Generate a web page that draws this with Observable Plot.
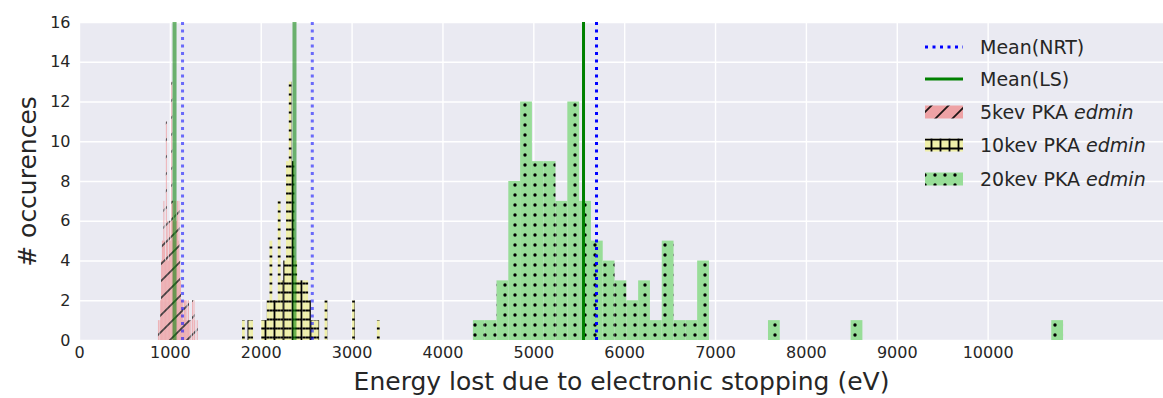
<!DOCTYPE html>
<html><head><meta charset="utf-8">
<script src="https://cdn.jsdelivr.net/npm/d3@7"></script>
<script src="https://cdn.jsdelivr.net/npm/@observablehq/plot@0.6"></script>
<style>
body{margin:0;background:#fff;font-family:"DejaVu Sans",sans-serif;}
#chart{position:relative;width:1163px;height:398px;overflow:hidden}
</style></head><body><div id="chart"></div>
<script>
// ---- data ----
const xTicks = [0,1000,2000,3000,4000,5000,6000,7000,8000,9000,10000];
const yTicks = [0,2,4,6,8,10,12,14,16];
const seriesNames = ["5kev PKA", "10kev PKA", "20kev PKA"];

// histogram bins (eV): first edge and bin width, 50 bins each
const binStart5 = 869,  binWidth5 = 8.72;
const binStart10 = 1794, binWidth10 = 30.3;
const binStart20 = 4335, binWidth20 = 129.9;

const counts5 = [1,0,1,2,4,5,5,7,5,4, 11,5,6,4,6,5,6,13,7,6, 7,5,7,6,7,5,7,4,3,2, 2,2,1,2,2,1,2,1,2,1, 0,1,0,2,0,2,1,0,0,1];
const counts10 = [1,0,1,1,0,0,0,1,1,2, 5,2,2,7,3,4,9,13,9,4, 3,3,3,3,2,1,1,1,0,0, 2,0,0,0,0,0,0,0,0,0, 2,0,0,0,0,0,0,0,0,1];
const counts20 = [1,1,3,8,12,9,9,7,12,7, 5,4,3,2,3,1,5,1,1,4, 0,0,0,0,0,1,0,0,0,0, 0,0,1,0,0,0,0,0,0,0, 0,0,0,0,0,0,0,0,0,1];

const meanNRT = [1134, 2562, 5690];
const meanLS  = [1046, 2366, 5547];

// ---- build tables ----
function bins(start, width, counts) {
  return counts.map((c, i) => ({x1: start + i * width, x2: start + (i + 1) * width, count: c}))
               .filter(d => d.count > 0);
}
const b5 = bins(binStart5, binWidth5, counts5);
const b10 = bins(binStart10, binWidth10, counts10);
const b20 = bins(binStart20, binWidth20, counts20);

const ink = "#262626";
const svg = Plot.plot({
  width: 1163, height: 398,
  marginLeft: 79, marginRight: 0, marginTop: 22, marginBottom: 58,
  x: {domain: [0, 11930]},
  y: {domain: [0, 16]},
  style: {fontFamily: "DejaVu Sans", fontSize: "16px", color: ink, background: "white", overflow: "visible"},
  marks: [
    Plot.frame({fill: "#EAEAF2", stroke: "none"}),
    Plot.gridX(xTicks, {stroke: "white", strokeOpacity: 1, strokeWidth: 1.4}),
    Plot.gridY(yTicks, {stroke: "white", strokeOpacity: 1, strokeWidth: 1.4}),
    Plot.axisX(xTicks, {tickSize: 0, tickPadding: 6, fontSize: 16, label: null, tickFormat: d => String(d)}),
    Plot.axisY(yTicks, {tickSize: 0, tickPadding: 9, fontSize: 16, label: null, tickFormat: d => String(d)}),
    Plot.rectY(b5, {x1: "x1", x2: "x2", y: "count", fill: "url(#h5)"}),
    Plot.rectY(b10, {x1: "x1", x2: "x2", y: "count", fill: "url(#h10)"}),
    Plot.rectY(b20, {x1: "x1", x2: "x2", y: "count", fill: "url(#h20)"}),
    Plot.ruleX(meanLS.slice(0, 2), {stroke: "#008000", strokeOpacity: 0.55, strokeWidth: 4}),
    Plot.ruleX(meanNRT.slice(0, 2), {stroke: "#0000ff", strokeOpacity: 0.55, strokeWidth: 3, strokeDasharray: "3,4.5"}),
    Plot.ruleX(meanLS.slice(2), {stroke: "#008000", strokeWidth: 3}),
    Plot.ruleX(meanNRT.slice(2), {stroke: "#0000ff", strokeWidth: 3, strokeDasharray: "3,4.5"}),
    Plot.text(["Energy lost due to electronic stopping (eV)"], {frameAnchor: "bottom", dy: 41, lineAnchor: "middle", textAnchor: "middle", fontSize: 25, fill: ink}),
    Plot.text(["# occurences"], {frameAnchor: "left", dx: -52, rotate: -90, textAnchor: "middle", lineAnchor: "middle", fontSize: 25, fill: ink})
  ]
});

// ---- hatch patterns ----
const s = d3.select(svg);
const defs = s.insert("defs", ":first-child");
function pat(id, w, h, bg) {
  const p = defs.append("pattern").attr("id", id).attr("patternUnits", "userSpaceOnUse")
    .attr("width", w).attr("height", h);
  p.append("rect").attr("width", w).attr("height", h).attr("fill", bg);
  return p;
}
pat("h5", 17, 17, "#eea2a5").append("path")
  .attr("d", "M0,17L17,0M-4,4L4,-4M13,21L21,13").attr("stroke", "#1f1616").attr("stroke-width", 1.8);
pat("h10", 9, 9, "#efefa9").append("path")
  .attr("d", "M0,4.5H9M4.5,0V9").attr("stroke", "#000").attr("stroke-width", 1.8);
pat("h20", 10, 10, "#98dd98").append("circle")
  .attr("cx", 5).attr("cy", 5).attr("r", 1.7).attr("fill", "#000");

// ---- legend ----
const lg = s.append("g").attr("font-family", "DejaVu Sans").attr("font-size", 19)
  .attr("fill", ink).attr("text-anchor", "start");
const rows = [47, 79, 112, 145, 179];
const x0 = 925, x1 = 963, tx = 980;
lg.append("line").attr("x1", x0).attr("x2", x1).attr("y1", rows[0]).attr("y2", rows[0])
  .attr("stroke", "#0000ff").attr("stroke-width", 3).attr("stroke-dasharray", "3,4.5");
lg.append("line").attr("x1", x0).attr("x2", x1).attr("y1", rows[1]).attr("y2", rows[1])
  .attr("stroke", "#008000").attr("stroke-width", 3);
["h5", "h10", "h20"].forEach((id, i) => {
  lg.append("rect").attr("x", x0).attr("y", rows[i + 2] - 6.5).attr("width", x1 - x0).attr("height", 13)
    .attr("fill", `url(#${id})`);
});
const labels = ["Mean(NRT)", "Mean(LS)"];
labels.forEach((t, i) => lg.append("text").attr("x", tx).attr("y", rows[i]).attr("dy", "0.35em").text(t));
seriesNames.forEach((t, i) => {
  const el = lg.append("text").attr("x", tx).attr("y", rows[i + 2]).attr("dy", "0.35em");
  el.append("tspan").text(t + " ");
  el.append("tspan").attr("font-style", "italic").text("edmin");
});

document.getElementById("chart").appendChild(svg);
</script></body></html>
